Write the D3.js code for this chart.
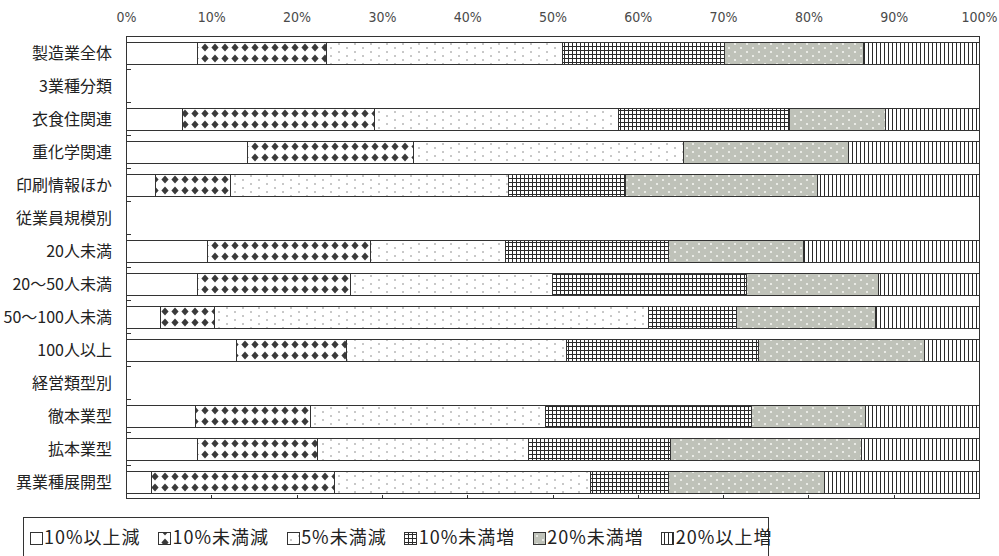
<!DOCTYPE html>
<html>
<head>
<meta charset="utf-8">
<script src="https://cdn.jsdelivr.net/npm/d3@7"></script>
<style>
  html, body { margin: 0; padding: 0; background: #fff; }
  svg { display: block; }
  .cat { font-family: "Liberation Sans Narrow", "Noto Sans CJK JP", sans-serif; font-size: 16px; fill: #222; }
  .tick-label { font-family: "Liberation Sans Narrow", "DejaVu Sans Condensed", "Liberation Sans", sans-serif; font-size: 14px; fill: #4a4a4a; }
  .leg { font-family: "Noto Sans CJK JP", sans-serif; font-size: 18px; letter-spacing: 1px; fill: #222; }
</style>
</head>
<body>
<svg id="chart" width="999" height="556"></svg>
<script>
// Rows of the chart (header rows carry no bars)
const categories = ["製造業全体", "3業種分類", "衣食住関連", "重化学関連", "印刷情報ほか",
  "従業員規模別", "20人未満", "20～50人未満", "50～100人未満", "100人以上",
  "経営類型別", "徹本業型", "拡本業型", "異業種展開型"];

const seriesNames = ["10%以上減", "10%未満減", "5%未満減", "10%未満増", "20%未満増", "20%以上増"];

// Share of firms (%) in each sales-change class
const dec10plus = [8.4, null, 6.6, 14.3, 3.4, null, 9.6, 8.4, 4.1, 13.0, null, 8.1, 8.4, 3.0];
const dec10less = [15.1, null, 22.5, 19.4, 8.8, null, 19.1, 17.9, 6.3, 12.9, null, 13.5, 14.0, 21.4];
const dec5less  = [27.7, null, 28.6, 31.6, 32.6, null, 15.8, 23.7, 50.8, 25.7, null, 27.6, 24.8, 30.1];
const inc10less = [19.0, null, 20.1, 0.0, 13.8, null, 19.1, 22.7, 10.4, 22.6, null, 24.1, 16.6, 9.1];
const inc20less = [16.3, null, 11.2, 19.4, 22.5, null, 15.8, 15.5, 16.3, 19.4, null, 13.4, 22.4, 18.3];
const inc20plus = [13.5, null, 11.0, 15.3, 18.9, null, 20.6, 11.8, 12.1, 6.4, null, 13.3, 13.8, 18.1];

const tickValues = [0, 10, 20, 30, 40, 50, 60, 70, 80, 90, 100];

(function () {
  const seriesValues = [dec10plus, dec10less, dec5less, inc10less, inc20less, inc20plus];
  const rows = categories.map((c, i) => {
    const r = { cat: c, empty: dec10plus[i] == null };
    seriesNames.forEach((s, k) => { r[s] = seriesValues[k][i] || 0; });
    return r;
  });

  const svg = d3.select("#chart");
  const plotLeft = 126, plotRight = 979, plotTop = 36.5, plotBottom = 498.5;

  const x = d3.scaleLinear().domain([0, 100]).range([plotLeft, plotRight]);
  const y = d3.scaleBand().domain(categories).range([plotTop, plotBottom])
    .paddingInner(1 / 3).paddingOuter(1 / 6);

  // Fill patterns for the six classes
  const defs = svg.append("defs");
  const bandTop = y(categories[0]);

  defs.append("pattern").attr("id", "p-white")
    .attr("patternUnits", "userSpaceOnUse").attr("width", 4).attr("height", 4)
    .append("rect").attr("width", 4).attr("height", 4).attr("fill", "#fff");

  const pDia = defs.append("pattern").attr("id", "p-diamond")
    .attr("patternUnits", "userSpaceOnUse").attr("width", 10).attr("height", 11)
    .attr("x", 0).attr("y", bandTop);
  pDia.append("rect").attr("width", 10).attr("height", 11).attr("fill", "#fff");
  pDia.append("path").attr("d", "M5,1.5 L8.6,5.5 L5,9.5 L1.4,5.5 Z").attr("fill", "#3a3a3a");

  const pDot = defs.append("pattern").attr("id", "p-dots")
    .attr("patternUnits", "userSpaceOnUse").attr("width", 16).attr("height", 8)
    .attr("x", 0).attr("y", bandTop);
  pDot.append("rect").attr("width", 16).attr("height", 8).attr("fill", "#fff");
  pDot.append("circle").attr("cx", 3).attr("cy", 2).attr("r", 0.75).attr("fill", "#777");
  pDot.append("circle").attr("cx", 11).attr("cy", 6).attr("r", 0.75).attr("fill", "#777");

  const pGrid = defs.append("pattern").attr("id", "p-grid")
    .attr("patternUnits", "userSpaceOnUse").attr("width", 4).attr("height", 4)
    .attr("x", 0).attr("y", bandTop);
  pGrid.append("rect").attr("width", 4).attr("height", 4).attr("fill", "#fff");
  pGrid.append("rect").attr("x", 0).attr("y", 0).attr("width", 1).attr("height", 4).attr("fill", "#2a2a2a");
  pGrid.append("rect").attr("x", 0).attr("y", 0).attr("width", 4).attr("height", 1).attr("fill", "#2a2a2a");

  const pGray = defs.append("pattern").attr("id", "p-gray")
    .attr("patternUnits", "userSpaceOnUse").attr("width", 12).attr("height", 8)
    .attr("x", 0).attr("y", bandTop);
  pGray.append("rect").attr("width", 12).attr("height", 8).attr("fill", "#bfc2b9");
  pGray.append("circle").attr("cx", 3).attr("cy", 2).attr("r", 1.1).attr("fill", "#f4f4f0");
  pGray.append("circle").attr("cx", 9).attr("cy", 6).attr("r", 1.1).attr("fill", "#f4f4f0");

  const pVert = defs.append("pattern").attr("id", "p-vert")
    .attr("patternUnits", "userSpaceOnUse").attr("width", 4).attr("height", 4);
  pVert.append("rect").attr("width", 4).attr("height", 4).attr("fill", "#fff");
  pVert.append("rect").attr("x", 0).attr("width", 1).attr("height", 4).attr("fill", "#2a2a2a");

  const fills = ["url(#p-white)", "url(#p-diamond)", "url(#p-dots)", "url(#p-grid)", "url(#p-gray)", "url(#p-vert)"];

  // Plot frame
  svg.append("rect")
    .attr("x", plotLeft).attr("y", plotTop).attr("width", plotRight - plotLeft).attr("height", plotBottom - plotTop)
    .attr("fill", "none").attr("stroke", "#333").attr("stroke-width", 1)
    .attr("shape-rendering", "crispEdges");

  // Stacked bars
  const stacked = d3.stack().keys(seriesNames)(rows);

  svg.append("g").selectAll("g")
    .data(stacked)
    .join("g")
    .attr("fill", (d, i) => fills[i])
    .selectAll("rect")
    .data(d => d.filter(s => !s.data.empty && s[1] - s[0] > 0))
    .join("rect")
    .attr("x", d => x(d[0]))
    .attr("y", d => y(d.data.cat))
    .attr("width", d => x(d[1]) - x(d[0]))
    .attr("height", y.bandwidth())
    .attr("stroke", "#333").attr("stroke-width", 1)
    .attr("shape-rendering", "crispEdges");

  // Top axis labels
  const axTop = svg.append("g").attr("transform", `translate(0,${plotTop})`)
    .call(d3.axisTop(x).tickValues(tickValues).tickFormat(d => d + "%").tickSize(0).tickPadding(15));
  axTop.select(".domain").remove();
  axTop.selectAll("text").attr("class", "tick-label").attr("font-family", null).attr("font-size", null);

  // Bottom axis: short inward ticks only
  const axBot = svg.append("g").attr("transform", `translate(0,${plotBottom})`)
    .call(d3.axisBottom(x).tickValues(tickValues).tickSize(-4).tickFormat(""));
  axBot.select(".domain").remove();
  axBot.selectAll("line").attr("stroke", "#333").attr("shape-rendering", "crispEdges");

  // Left axis: inward ticks at row boundaries plus category labels
  const boundaries = categories.slice(1).map(c => y(c) - y.step() * y.paddingInner() / 2);
  svg.append("g").selectAll("line")
    .data(boundaries)
    .join("line")
    .attr("x1", plotLeft).attr("x2", plotLeft + 5)
    .attr("y1", d => d).attr("y2", d => d)
    .attr("stroke", "#333").attr("shape-rendering", "crispEdges");

  svg.append("g").selectAll("text")
    .data(categories)
    .join("text")
    .attr("class", "cat")
    .attr("x", 112)
    .attr("y", d => y(d) + y.bandwidth() / 2)
    .attr("dy", "0.36em")
    .attr("text-anchor", "end")
    .text(d => d);

  // Legend
  const legX = 23, legY = 517;
  svg.append("rect")
    .attr("x", legX).attr("y", legY).attr("width", 745).attr("height", 60)
    .attr("fill", "#fff").attr("stroke", "#333").attr("stroke-width", 1)
    .attr("shape-rendering", "crispEdges");

  let cx = 30;
  const legCy = 538;
  seriesNames.forEach((name, i) => {
    svg.append("rect")
      .attr("x", cx).attr("y", legCy - 6).attr("width", 12).attr("height", 12)
      .attr("fill", fills[i]).attr("stroke", "#333").attr("stroke-width", 1)
      .attr("shape-rendering", "crispEdges");
    const t = svg.append("text")
      .attr("class", "leg")
      .attr("x", cx + 14).attr("y", legCy).attr("dy", "0.36em")
      .text(name);
    cx += 14 + t.node().getComputedTextLength() + 18;
  });
})();
</script>
</body>
</html>
